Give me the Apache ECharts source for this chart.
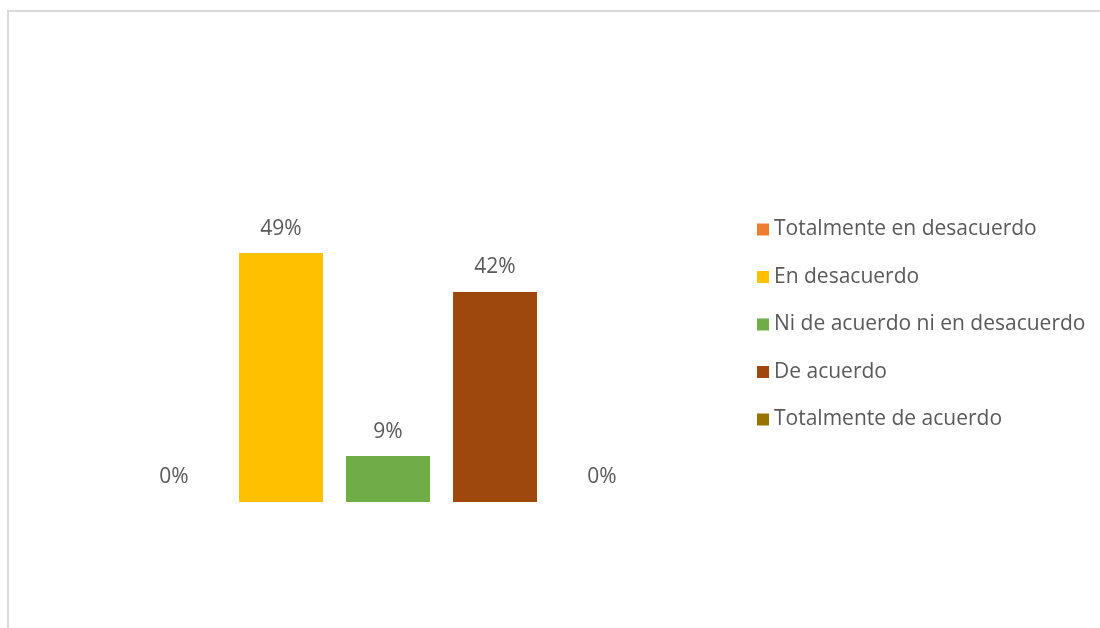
<!DOCTYPE html>
<html><head><meta charset="utf-8">
<script src="https://cdn.jsdelivr.net/npm/echarts@6/dist/echarts.min.js"></script>
<style>
html,body{margin:0;padding:0;background:#fff;}
#frame{position:absolute;left:7px;top:10px;width:1200px;height:700px;border:2px solid #d9d9d9;box-sizing:border-box;}
#c{position:absolute;left:0;top:0;width:1100px;height:628px;}
</style></head>
<body>
<div id="frame"></div>
<div id="c"></div>
<script>
var categories = [''];
var seriesNames = ['Totalmente en desacuerdo','En desacuerdo','Ni de acuerdo ni en desacuerdo','De acuerdo','Totalmente de acuerdo'];
var seriesValues = [0, 49.3, 9.1, 41.6, 0];
var seriesColors = ['#ED7D31','#FFC000','#70AD47','#9E480E','#997300'];
var FONT = 'Open Sans';
var chart = echarts.init(document.getElementById('c'));
var series = seriesNames.map(function(n,i){
  return {
    name:n, type:'bar', data:[seriesValues[i]],
    barWidth:84, barGap:'27.4%',
    itemStyle:{color:seriesColors[i]},
    label:{show:true, position:'top', distance:14, color:'#595959', fontFamily:FONT, fontSize:21,
      formatter:function(p){return Math.round(p.value)+'%';}}
  };
});
chart.setOption({
  animation:false,
  grid:{left:88, width:600, top:199, height:303},
  xAxis:{type:'category', data:categories, axisLine:{show:false}, axisTick:{show:false}, axisLabel:{show:false}},
  yAxis:{type:'value', min:0, max:60, show:false, splitLine:{show:false}},
  legend:{orient:'vertical', left:752, top:214, itemWidth:12, itemHeight:12, itemGap:26.5, icon:'rect',
    textStyle:{color:'#595959', fontFamily:FONT, fontSize:21, padding:[0,0,0,0]},
    data:seriesNames},
  series:series
});
</script>
</body></html>
